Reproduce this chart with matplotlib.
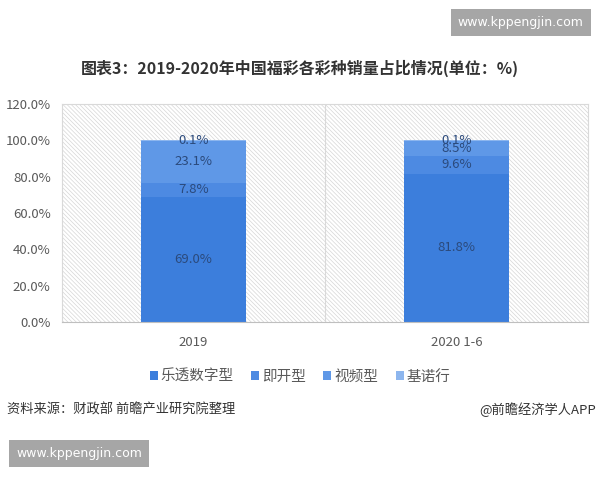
import matplotlib.pyplot as plt
from matplotlib.patches import Rectangle
from matplotlib.ticker import FuncFormatter
import numpy as np

plt.rcParams['font.family'] = ['Noto Sans CJK SC', 'DejaVu Sans']
plt.rcParams['hatch.linewidth'] = 0.5
plt.rcParams['hatch.color'] = '#d6d6d6'

# data
categories = ['2019', '2020 1-6']
series = ['乐透数字型', '即开型', '视频型', '基诺行']
values = [
    [69.0, 81.8],   # 乐透数字型
    [7.8, 9.6],     # 即开型
    [23.1, 8.5],    # 视频型
    [0.1, 0.1],     # 基诺行
]
colors = ['#3c7edc', '#4d8ae2', '#5f98e7', '#8db6ee']
yticks = [0, 20, 40, 60, 80, 100, 120]

fig = plt.figure(figsize=(6, 4.8), dpi=100)
ax = fig.add_axes([0.103, 0.329, 0.877, 0.454])

# hatched plot background
ax.add_patch(Rectangle((0, 0), 1, 1, transform=ax.transAxes, facecolor='white',
                       hatch='\\' * 8, edgecolor='#d6d6d6', linewidth=0, zorder=0))

x = np.arange(len(categories))
bottom = np.zeros(len(categories))
for name, vals, c in zip(series, values, colors):
    vals = np.array(vals)
    ax.bar(x, vals, 0.4, bottom=bottom, color=c, label=name, zorder=2)
    for xi, b, v in zip(x, bottom, vals):
        ax.text(xi, b + v / 2, f'{v:.1f}%', ha='center', va='center',
                fontsize=9.5, color='#2b4a7c', zorder=3)
    bottom += vals

ax.set_xlim(-0.5, 1.5)
ax.set_ylim(0, 120)
ax.set_yticks(yticks)
ax.yaxis.set_major_formatter(FuncFormatter(lambda v, p: f'{v:.1f}%'))
ax.set_xticks(x)
ax.set_xticklabels(categories)
ax.tick_params(length=0, labelsize=9.5, labelcolor='#595959')
ax.tick_params(axis='x', pad=10)
ax.tick_params(axis='y', pad=8)
for s in ax.spines.values():
    s.set_color('#d9d9d9')
    s.set_linewidth(0.8)
ax.spines['bottom'].set_color('#bfbfbf')
ax.axvline(0.5, color='#d9d9d9', linewidth=0.8, zorder=1)

fig.legend(loc='center', bbox_to_anchor=(0.5, 0.215), ncol=4, frameon=False,
           fontsize=10.5, handlelength=0.55, handleheight=0.55, handletextpad=0.2,
           columnspacing=1.2, labelcolor='#595959')

fig.text(0.5, 0.858, '图表3：2019-2020年中国福彩各彩种销量占比情况(单位：%)',
         ha='center', va='center', fontsize=11.5, fontweight='bold', color='#333333')
fig.text(0.012, 0.146, '资料来源：财政部 前瞻产业研究院整理', ha='left', va='center',
         fontsize=9.5, color='#333333')
fig.text(0.993, 0.146, '@前瞻经济学人APP', ha='right', va='center',
         fontsize=9.5, color='#333333')

# site watermark boxes
fig.text(0.868, 0.953, 'www.kppengjin.com', ha='center', va='center', fontsize=9,
         color='white', family='DejaVu Sans',
         bbox=dict(boxstyle='square,pad=0.55', facecolor='#a6a6a6', edgecolor='none'))
fig.text(0.132, 0.055, 'www.kppengjin.com', ha='center', va='center', fontsize=9,
         color='white', family='DejaVu Sans',
         bbox=dict(boxstyle='square,pad=0.55', facecolor='#a6a6a6', edgecolor='none'))

fig.savefig('out.png', dpi=100)
